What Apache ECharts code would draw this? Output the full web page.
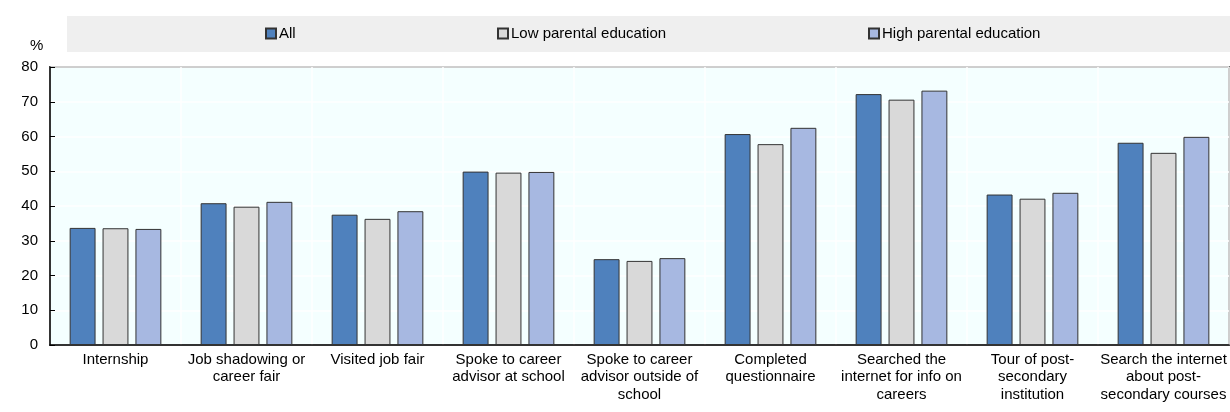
<!DOCTYPE html>
<html>
<head>
<meta charset="utf-8">
<script src="https://cdn.jsdelivr.net/npm/echarts@6/dist/echarts.min.js"></script>
<style>html,body{margin:0;padding:0;background:#fff}#c{width:1230px;height:412px}</style>
</head>
<body>
<div id="c"></div>
<script>
const categories = [
  "Internship",
  "Job shadowing or\ncareer fair",
  "Visited job fair",
  "Spoke to career\nadvisor at school",
  "Spoke to career\nadvisor outside of\nschool",
  "Completed\nquestionnaire",
  "Searched the\ninternet for info on\ncareers",
  "Tour of post-\nsecondary\ninstitution",
  "Search the internet\nabout post-\nsecondary courses"
];
const seriesNames = ["All", "Low parental education", "High parental education"];
const allValues  = [33.7, 40.8, 37.5, 49.9, 24.7, 60.7, 72.2, 43.3, 58.2];
const lowValues  = [33.6, 39.8, 36.3, 49.6, 24.2, 57.8, 70.6, 42.1, 55.3];
const highValues = [33.4, 41.2, 38.5, 49.8, 25.0, 62.5, 73.2, 43.8, 59.9];
const yTicks = [0, 10, 20, 30, 40, 50, 60, 70, 80];

const FONT = "'Liberation Sans', Arial, sans-serif";
const colors = ["#4F81BD", "#D9D9D9", "#A7B8E1"];

const chart = echarts.init(document.getElementById('c'), null, {renderer: 'canvas'});
const legendLefts = [265, 497, 868];
const option = {
  animation: false,
  textStyle: {fontFamily: FONT},
  graphic: [
    {type: 'rect', left: 67, top: 16, shape: {width: 1163, height: 36}, style: {fill: '#EFEFEF'}, z: -1},
    {type: 'text', left: 30, top: 38, style: {text: '%', font: "15px " + FONT, fill: '#000'}}
  ],
  legend: seriesNames.map((n, i) => ({
    data: [n], left: legendLefts[i], top: 26, itemWidth: 10, itemHeight: 10, itemGap: 0,
    icon: 'rect', selectedMode: false, padding: 0,
    textStyle: {fontSize: 15, color: '#000', fontFamily: FONT, padding: [0, 0, 0, -2]}
  })),
  grid: {left: 50, right: 1, top: 67, bottom: 67, show: true, backgroundColor: '#F4FFFF', borderColor: '#000', borderWidth: 1.5},
  xAxis: {
    type: 'category', data: categories,
    axisLine: {lineStyle: {color: '#000', width: 1.5}},
    axisTick: {inside: true, length: 5, lineStyle: {color: '#000'}},
    splitLine: {show: true, lineStyle: {color: '#fff', width: 1.5}},
    axisLabel: {color: '#000', fontSize: 15, lineHeight: 17.5, fontFamily: FONT, margin: 6, interval: 0}
  },
  yAxis: {
    type: 'value', min: yTicks[0], max: yTicks[yTicks.length - 1], interval: 10,
    axisLine: {show: true, lineStyle: {color: '#000', width: 1.5}},
    axisTick: {show: true, inside: true, length: 5, lineStyle: {color: '#000'}},
    splitLine: {show: true, lineStyle: {color: '#fff', width: 1.5}},
    axisLabel: {color: '#000', fontSize: 15, fontFamily: FONT, margin: 12}
  },
  series: [allValues, lowValues, highValues].map((d, i) => ({
    name: seriesNames[i], type: 'bar', data: d,
    barGap: '27%', barCategoryGap: '30%',
    itemStyle: {color: colors[i], borderColor: '#333', borderWidth: 1}
  }))
};
chart.setOption(option);
</script>
</body>
</html>
